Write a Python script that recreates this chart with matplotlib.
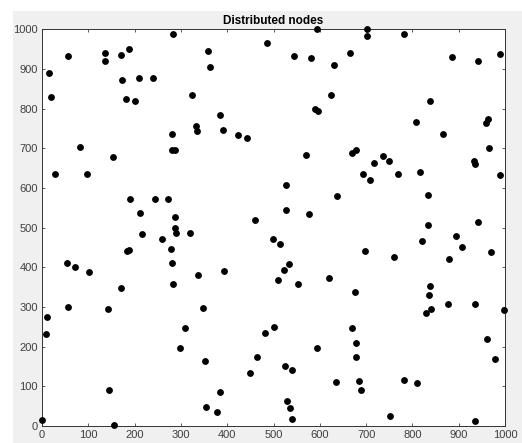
import matplotlib.pyplot as plt
from matplotlib.patches import Rectangle

# node positions
node_x = [15, 20, 29, 57, 82, 98, 135, 137, 154, 171, 172, 181, 187, 201, 209,
          190, 212, 239, 245, 273, 283, 280, 281, 287, 288, 325, 332, 335, 359, 362,
          385, 391, 423, 443, 460, 487, 287,
          545, 582, 595, 630, 624, 590, 597, 666, 703, 702, 782, 886, 942, 989,
          837, 808, 867, 964, 960, 965, 571, 669, 678, 716, 736, 749, 694, 708,
          768, 816, 934, 935, 990, 528, 637, 833, 526, 577, 834, 942,
          215, 290, 320, 260, 279, 183, 188, 55, 71, 102, 281, 337, 394, 283,
          170, 11, 56, 142, 348, 9, 309, 299, 351, 482, 464, 450, 145, 384, 354,
          379, 1, 155,
          499, 515, 533, 522, 509, 553, 620, 676, 697, 761, 820, 895, 907, 878,
          970, 839, 836, 841, 829, 876, 936, 997, 500, 670, 678, 679, 595, 524,
          539, 634, 684, 690, 782, 810, 962, 979, 530, 536, 541, 751, 935]
node_y = [891, 830, 635, 932, 703, 636, 939, 920, 678, 935, 871, 825, 951, 818, 877,
          573, 536, 876, 572, 572, 989, 736, 695, 695, 526, 835, 757, 743, 945, 904,
          783, 746, 733, 725, 519, 966, 499,
          932, 927, 1000, 911, 835, 798, 793, 941, 1000, 984, 987, 929, 919, 938,
          820, 767, 736, 775, 764, 701, 683, 688, 695, 663, 680, 669, 636, 621,
          636, 641, 669, 661, 632, 608, 579, 583, 545, 534, 507, 513,
          484, 486, 487, 472, 447, 442, 444, 412, 400, 387, 411, 381, 391, 359,
          349, 276, 301, 296, 298, 233, 247, 196, 165, 235, 173, 133, 92, 86, 47,
          35, 16, 3,
          472, 458, 409, 392, 369, 357, 372, 339, 440, 427, 466, 478, 450, 420,
          439, 353, 330, 294, 285, 308, 308, 292, 250, 248, 210, 174, 196, 151,
          142, 110, 114, 91, 115, 109, 220, 169, 64, 45, 18, 26, 12]

plt.rcParams['font.family'] = ['Liberation Sans', 'DejaVu Sans']

fig = plt.figure(figsize=(5.22, 4.43), dpi=100, facecolor='white')
# grey MATLAB figure background (screenshot has a white strip top/left)
fig.patches.append(Rectangle((13 / 522, 0), 1, 1 - 11 / 443, transform=fig.transFigure,
                             facecolor='#f0f0f0', edgecolor='none', zorder=-1))

ax = fig.add_axes([42 / 522, 1 - 426 / 443, 463 / 522, 396.7 / 443])
ax.plot(node_x, node_y, 'o', color='black', markersize=3.9, clip_on=False, zorder=3)

ax.set_xlim(0, 1000)
ax.set_ylim(0, 1000)
ax.set_xticks(range(0, 1001, 100))
ax.set_yticks(range(0, 1001, 100))
ax.tick_params(direction='in', top=True, right=True, length=2.5, width=0.6,
               labelsize=8, colors='#404040', pad=3)
for s in ax.spines.values():
    s.set_color('#333333')
    s.set_linewidth(0.7)
ax.set_title('Distributed nodes', fontsize=8.5, fontweight='bold', pad=4)

fig.savefig('out.png', dpi=100, facecolor=fig.get_facecolor())
